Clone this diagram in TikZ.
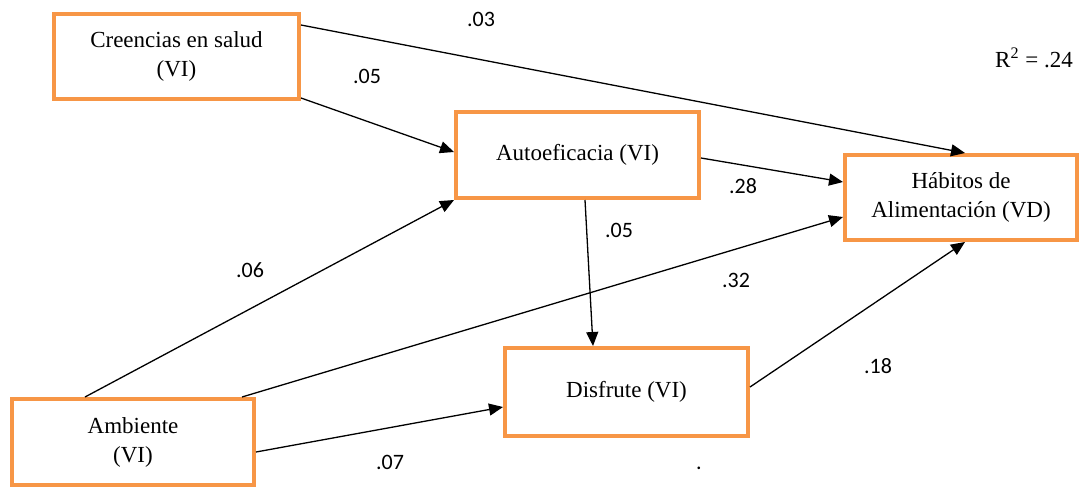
\documentclass[tikz,border=0pt]{standalone}
\usepackage{fontspec}
\setmainfont{Liberation Serif}
\newfontfamily\labfont{Carlito}
\usetikzlibrary{arrows.meta}
\definecolor{boxorange}{RGB}{247,150,70}
\tikzset{
  varbox/.style={draw=boxorange, line width=2pt, fill=white, align=center,
    font=\fontsize{11.5pt}{14.5pt}\selectfont, inner sep=0pt},
  path/.style={draw=black, line width=0.65pt, -{Triangle[length=7pt,width=6pt]}},
  coef/.style={font=\labfont\fontsize{11pt}{13pt}\selectfont, inner sep=0pt}
}
\begin{document}
\begin{tikzpicture}[x=0.5pt,y=-0.5pt]
\useasboundingbox (0,0) rectangle (1080,487);
% boxes
\node[varbox, minimum width=122.5pt, minimum height=42.5pt] (cre) at (176.5,56.5) {Creencias en salud\\(VI)};
\node[varbox, minimum width=121.5pt, minimum height=43pt] (aut) at (577.5,155) {Autoeficacia (VI)};
\node[varbox, minimum width=116pt, minimum height=42.5pt] (hab) at (961,197.5) {Hábitos de\\Alimentación (VD)};
\node[varbox, minimum width=121pt, minimum height=43pt] (amb) at (133,442) {Ambiente\\(VI)};
\node[varbox, minimum width=121.5pt, minimum height=44pt] (dis) at (626.5,392) {Disfrute (VI)};
% connectors
\draw[path] ([yshift=15.75pt]cre.east) -- ([xshift=2pt]hab.north);
\draw[path] ([yshift=-20.75pt]cre.east) -- ([yshift=1.5pt]aut.west);
\draw[path] ([yshift=-1.5pt]aut.east) -- ([yshift=7.75pt]hab.west);
\draw[path] ([xshift=-24pt]amb.north) -- (aut.south west);
\draw[path] ([xshift=54.5pt]amb.north) -- ([yshift=-9.75pt]hab.west);
\draw[path] ([yshift=-5pt]amb.east) -- ([yshift=-7.5pt]dis.west);
\draw[path] ([xshift=3.75pt]aut.south) -- ([xshift=-16.75pt]dis.north);
\draw[path] ([yshift=2.5pt]dis.east) -- ([xshift=2pt]hab.south);
% coefficients
\node[coef] (c03) at (481,19) {.03};
\node[coef] (c05a) at (367,76) {.05};
\node[coef] (c28) at (743,186) {.28};
\node[coef] (c05b) at (619,230) {.05};
\node[coef] (c06) at (250,270) {.06};
\node[coef] (c32) at (736,280) {.32};
\node[coef] (c18) at (878,366) {.18};
\node[coef] (c07) at (390,462) {.07};
\node[coef] (dot) at (699,468) {.};
\node[font=\fontsize{11.5pt}{14pt}\selectfont, inner sep=0pt] (r2) at (1034,58) {R\textsuperscript{2} = .24};
\end{tikzpicture}
\end{document}
